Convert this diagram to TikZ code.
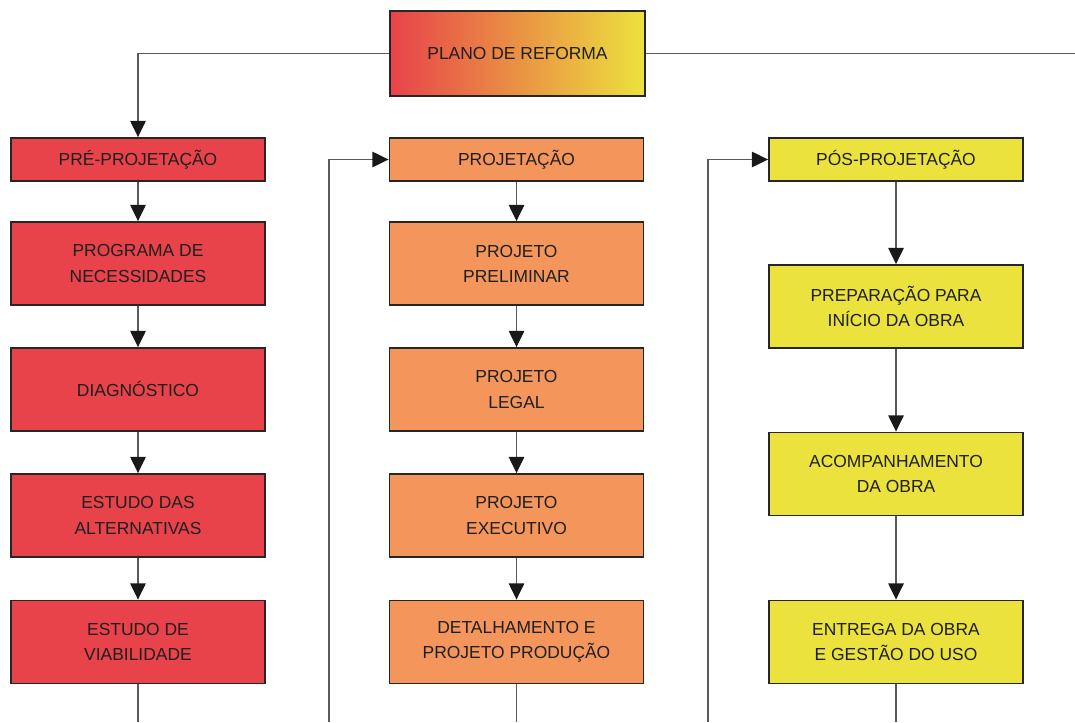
\documentclass[tikz,border=0pt]{standalone}
\usepackage{fontspec}
\setmainfont{Liberation Sans}
\usepackage{xcolor}
\usetikzlibrary{arrows.meta,positioning}

\definecolor{prered}{RGB}{232,66,74}
\definecolor{projorange}{RGB}{244,150,92}
\definecolor{posyellow}{RGB}{236,226,62}
\definecolor{linegray}{RGB}{90,90,90}

\begin{document}
\begin{tikzpicture}[x=0.025cm,y=-0.025cm,
		etapa/.style={draw=black!85,line width=1.3pt,text=black!88,align=center,
			font=\fontsize{12.4}{17.8}\selectfont,inner sep=0pt},
		titulo/.style={etapa,minimum width=6.35cm,minimum height=1.075cm},
		caixa/.style={etapa,minimum width=6.35cm,minimum height=2.075cm},
		liga/.style={draw=linegray,line width=0.9pt},
		seta/.style={liga,-{Triangle[length=11.5pt,width=11pt,color=black!90]}}]
		\useasboundingbox (0,0) rectangle (1075,722);
		% topo
		\node[etapa,minimum width=6.375cm,minimum height=2.125cm,
			left color=prered,middle color={rgb,255:red,240;green,146;blue,62},right color=posyellow] (plano) at (517.5,53.5) {PLANO DE REFORMA};
		% cabecalhos
		\node[titulo,fill=prered] (pre) at (138,159.5) {PRÉ-PROJETAÇÃO};
		\node[titulo,fill=projorange] (proj) at (516.5,159.5) {PROJETAÇÃO};
		\node[titulo,fill=posyellow] (pos) at (896,159.5) {PÓS-PROJETAÇÃO};
		% pre-projetacao
		\node[caixa,fill=prered] (pre1) at (138,263.5) {PROGRAMA DE\\NECESSIDADES};
		\node[caixa,fill=prered] (pre2) at (138,389.5) {DIAGNÓSTICO};
		\node[caixa,fill=prered] (pre3) at (138,515.5) {ESTUDO DAS\\ALTERNATIVAS};
		\node[caixa,fill=prered] (pre4) at (138,642) {ESTUDO DE\\VIABILIDADE};
		% projetacao
		\node[caixa,fill=projorange] (proj1) at (516.5,263.5) {PROJETO\\PRELIMINAR};
		\node[caixa,fill=projorange] (proj2) at (516.5,389.5) {PROJETO\\LEGAL};
		\node[caixa,fill=projorange] (proj3) at (516.5,515.5) {PROJETO\\EXECUTIVO};
		\node[caixa,fill=projorange] (proj4) at (516.5,642) {DETALHAMENTO E\\PROJETO PRODUÇÃO};
		% pos-projetacao
		\node[caixa,fill=posyellow] (pos1) at (896,306.5) {PREPARAÇÃO PARA\\INÍCIO DA OBRA};
		\node[caixa,fill=posyellow] (pos2) at (896,474) {ACOMPANHAMENTO\\DA OBRA};
		\node[caixa,fill=posyellow] (pos3) at (896,642) {ENTREGA DA OBRA\\E GESTÃO DO USO};
		% pontas soltas
		\coordinate (dir) at (1075,53.5);
		\coordinate (fim1) at (138,722);
		\coordinate (fim2) at (516.5,722);
		\coordinate (fim3) at (896,722);
		\coordinate (volta2) at (329,722);
		\coordinate (volta3) at (708,722);
		% ligacoes
		\draw[seta] (plano.west) -| (pre.north);
		\draw[liga] (plano.east) -- (dir);
		\draw[seta] (pre) -- (pre1);
		\draw[seta] (pre1) -- (pre2);
		\draw[seta] (pre2) -- (pre3);
		\draw[seta] (pre3) -- (pre4);
		\draw[liga] (pre4) -- (fim1);
		\draw[seta] (volta2) |- (proj.west);
		\draw[seta] (proj) -- (proj1);
		\draw[seta] (proj1) -- (proj2);
		\draw[seta] (proj2) -- (proj3);
		\draw[seta] (proj3) -- (proj4);
		\draw[liga] (proj4) -- (fim2);
		\draw[seta] (volta3) |- (pos.west);
		\draw[seta] (pos) -- (pos1);
		\draw[seta] (pos1) -- (pos2);
		\draw[seta] (pos2) -- (pos3);
		\draw[liga] (pos3) -- (fim3);
	\end{tikzpicture}
\end{document}
